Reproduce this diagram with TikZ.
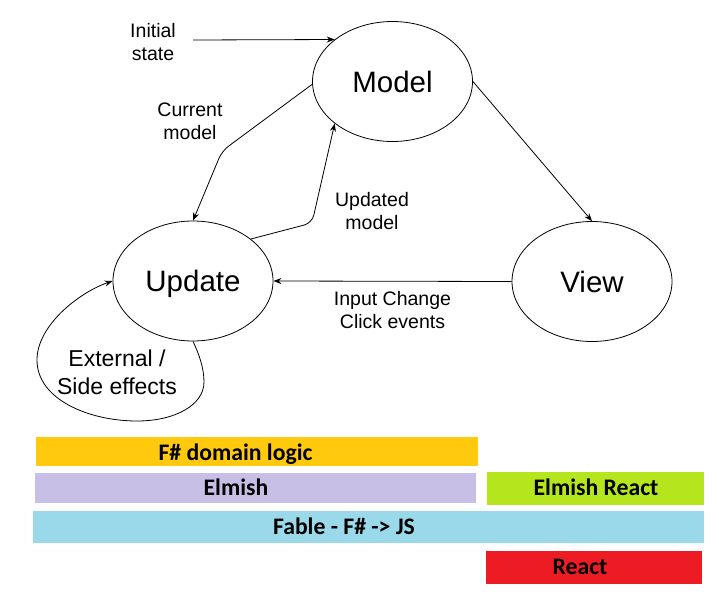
\documentclass[tikz,border=0pt]{standalone}
\usepackage{fontspec}
\usepackage{tikz}
\usepackage{xcolor}
\usetikzlibrary{positioning, calc, shapes.geometric, arrows.meta}
\setmainfont{Liberation Sans}
\newfontfamily\barfont{Carlito}

\definecolor{domcol}{RGB}{255,201,14}
\definecolor{elmcol}{RGB}{200,191,231}
\definecolor{elmrcol}{RGB}{181,230,29}
\definecolor{fablecol}{RGB}{153,217,234}
\definecolor{reactcol}{RGB}{237,28,36}

\tikzset{
    bubble/.style={ellipse, draw, line width=0.8pt, minimum width=160, minimum height=120,
        inner sep=0pt, text height=21pt, text depth=0pt,
        font=\fontsize{29.5}{34}\selectfont},
    lbl/.style={align=center, font=\fontsize{19.5}{23.5}\selectfont},
    arr/.style={-{Stealth[length=8pt,width=6pt]}, line width=0.8pt},
    bar/.style={rectangle, inner sep=0pt, minimum height=30},
    bartext/.style={anchor=base, font=\barfont\bfseries\fontsize{23.7}{28}\selectfont}
}

\begin{document}
\begin{tikzpicture}[x=1pt, y=-1pt]
        \useasboundingbox (0,0) rectangle (719,594);
        \node[bubble] (model) at (392.5,81.5) {Model};
        \node[bubble] (view) at (592,281.5) {View};
        \node[bubble] (update) at (193,281) {Update};
        \node[lbl] (init) at (153,42) {Initial\\state};
        \node[lbl] (cur) at (190,121.5) {Current\\model};
        \node[lbl] (upd) at (372,211) {Updated\\model};
        \node[lbl] (input) at (392.5,310) {Input Change\\Click events};
        \node[lbl, font=\fontsize{23}{28}\selectfont] (ext) at (117,372) {External /\\Side effects};
        \coordinate (initstart) at (193,40);
        \coordinate (curbend) at (222,151);
        \coordinate (updbend) at (312,223);
        \draw[arr] (initstart) -- (model.144);
        \draw[arr, rounded corners=8] (model.182) -- (curbend) -- (update.north);
        \draw[arr, rounded corners=8] (update.36) -- (updbend) -- (model.216);
        \draw[arr] (model.east) -- (view.north);
        \draw[arr] (view.west) -- (update.east);
        \draw[arr] (update.south) .. controls (199,354) and (204,368) .. (204,382)
            .. controls (204,405) and (175,421) .. (137,421)
            .. controls (90,421) and (37,400) .. (37,360)
            .. controls (37,325) and (80,292) .. (update.west);
        % layers
        \node[bar, fill=domcol, minimum width=442, minimum height=29] (dom) at (257,451.5) {};
        \node[bar, fill=elmcol, minimum width=441] (elm) at (255.5,488) {};
        \node[bar, fill=elmrcol, minimum width=217, minimum height=33] (elmr) at (595.5,488.5) {};
        \node[bar, fill=fablecol, minimum width=671, minimum height=32] (fable) at (368.5,527) {};
        \node[bar, fill=reactcol, minimum width=216, minimum height=33] (react) at (594,567.5) {};
        \node[bartext] (domtext) at (235.5,460) {F\# domain logic};
        \node[bartext] (elmtext) at (236,495) {Elmish};
        \node[bartext] (elmrtext) at (596,495.5) {Elmish React};
        \node[bartext] (fabletext) at (344,534) {Fable - F\# -> JS};
        \node[bartext] (reacttext) at (580,574) {React};
    \end{tikzpicture}
\end{document}
